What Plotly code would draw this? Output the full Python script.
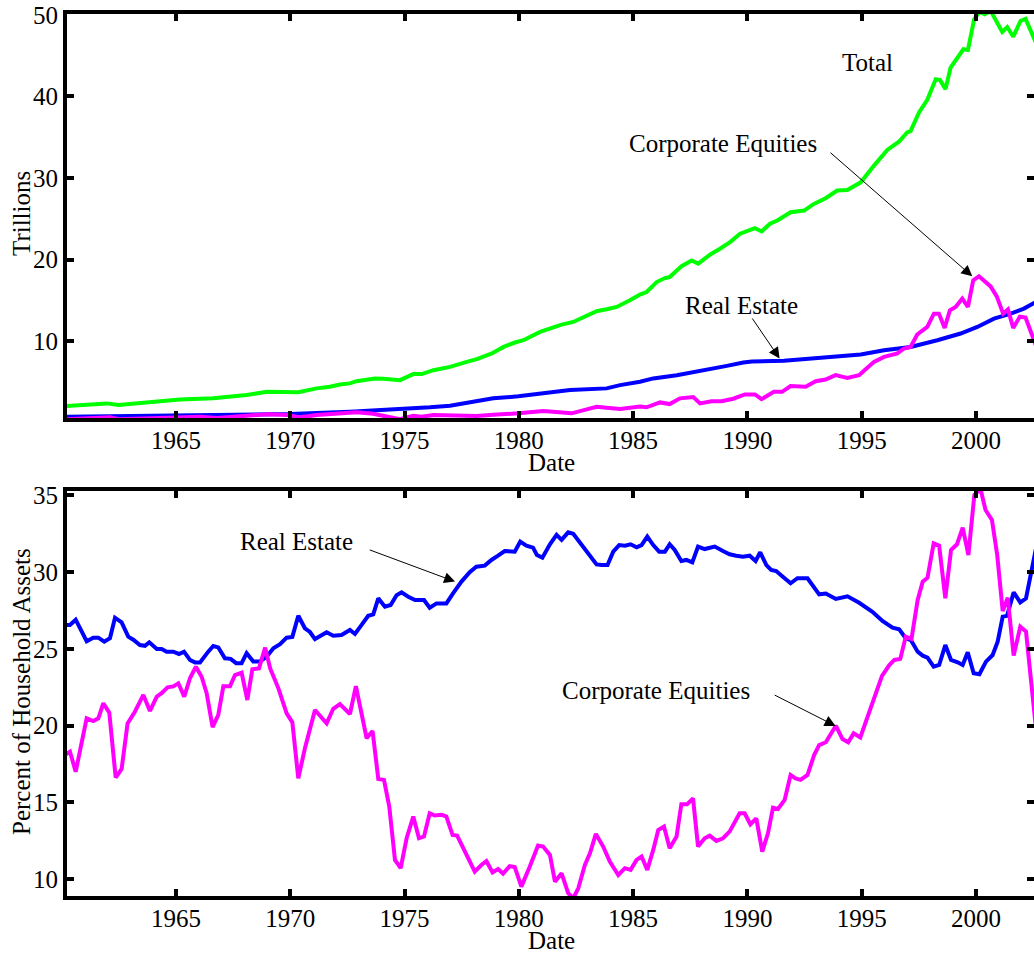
import plotly.graph_objects as go

# ---------------- data ----------------
# Top panel: household assets, trillions of dollars
total_years = [1960.14, 1961.97, 1962.48, 1963.86, 1965.17, 1966.63, 1968.09, 1968.97, 1970.13, 1970.35,
               1971.15, 1971.73, 1972.17, 1972.61, 1972.9, 1973.34, 1973.7, 1974.07, 1974.43, 1974.8,
               1975.38, 1975.75, 1976.26, 1976.99, 1977.72, 1978.16, 1978.82, 1979.33, 1979.83, 1980.2,
               1980.93, 1981.44, 1981.87, 1982.38, 1982.82, 1983.4, 1983.84, 1984.28, 1984.86, 1985.3,
               1985.59, 1986.03, 1986.39, 1986.6, 1987.12, 1987.56, 1987.85, 1988.36, 1988.8, 1989.24,
               1989.68, 1990.04, 1990.33, 1990.62, 1990.99, 1991.31, 1991.89, 1992.48, 1992.91, 1993.42,
               1993.93, 1994.37, 1994.96, 1995.54, 1996.12, 1996.63, 1996.99, 1997.14, 1997.51, 1997.87,
               1998.24, 1998.43, 1998.67, 1998.89, 1999.15, 1999.45, 1999.65, 1999.92, 2000.15, 2000.39,
               2000.65, 2000.91, 2001.15, 2001.37, 2001.63, 2001.95, 2002.17, 2002.62]
total_vals = [2.05, 2.38, 2.18, 2.58, 2.87, 3.0, 3.4, 3.8, 3.8, 3.75,
              4.22, 4.42, 4.7, 4.83, 5.1, 5.23, 5.44, 5.4, 5.37, 5.23,
              5.97, 5.97, 6.45, 6.86, 7.47, 7.8, 8.5, 9.3, 9.84, 10.12,
              11.14, 11.63, 12.04, 12.36, 12.97, 13.67, 13.91, 14.2, 15.01, 15.71,
              16.03, 17.25, 17.74, 17.86, 19.2, 19.9, 19.5, 20.6, 21.33, 22.14,
              23.17, 23.57, 23.85, 23.45, 24.39, 24.79, 25.81, 26.01, 26.83, 27.52,
              28.46, 28.54, 29.47, 31.52, 33.44, 34.45, 35.59, 35.75, 38.03, 39.58,
              42.11, 42.0, 40.89, 43.53, 44.56, 45.78, 45.7, 49.45, 50.34, 50.06,
              50.47, 49.24, 47.9, 48.5, 47.32, 49.24, 49.5, 46.6]

re_years = [1960.14, 1964.6, 1969.99, 1972.61, 1974.8, 1976.11, 1976.99, 1978.0, 1978.88, 1979.98,
            1981.07, 1981.66, 1982.24, 1983.84, 1984.43, 1985.3, 1985.88, 1986.91, 1987.93, 1989.1,
            1989.82, 1990.2, 1991.6, 1992.91, 1994.96, 1995.98, 1997.14, 1998.31, 1999.33, 2000.06,
            2000.79, 2001.52, 2002.1, 2002.62]
re_vals = [0.75, 0.95, 1.08, 1.36, 1.65, 1.9, 2.1, 2.58, 3.0, 3.25,
           3.6, 3.89, 4.01, 4.22, 4.62, 5.03, 5.44, 5.84, 6.33, 6.98,
           7.39, 7.5, 7.6, 7.88, 8.37, 8.9, 9.3, 10.12, 10.94, 11.75,
           12.77, 13.38, 14.0, 14.8]

ce_years = [1960.14, 1962.11, 1962.5, 1966.05, 1966.8, 1968.97, 1969.9, 1970.43, 1971.15, 1972.76,
            1972.9, 1973.63, 1974.36, 1974.8, 1975.38, 1975.75, 1976.26, 1976.99, 1978.16, 1978.88,
            1979.99, 1981.07, 1981.59, 1982.31, 1982.97, 1983.4, 1983.84, 1984.43, 1985.3, 1985.59,
            1986.18, 1986.6, 1987.05, 1987.63, 1987.93, 1988.43, 1988.87, 1989.38, 1989.89, 1990.33,
            1990.62, 1990.99, 1991.16, 1991.52, 1991.89, 1992.55, 1992.99, 1993.42, 1993.86, 1994.37,
            1994.89, 1995.1, 1995.54, 1995.98, 1996.56, 1996.85, 1997.14, 1997.43, 1997.87, 1998.16,
            1998.38, 1998.63, 1998.86, 1999.11, 1999.4, 1999.65, 1999.88, 2000.13, 2000.39, 2000.64,
            2000.91, 2001.19, 2001.4, 2001.63, 2001.92, 2002.17, 2002.62]
ce_vals = [0.43, 0.67, 0.43, 0.75, 0.6, 1.04, 0.95, 0.67, 0.95, 1.16,
           1.3, 1.1, 0.75, 0.43, 0.85, 0.75, 0.95, 0.95, 0.85, 1.0,
           1.16, 1.44, 1.36, 1.16, 1.65, 1.97, 1.85, 1.7, 2.0, 1.9,
           2.5, 2.3, 3.0, 3.15, 2.38, 2.65, 2.65, 2.95, 3.48, 3.48,
           2.9, 3.48, 3.8, 3.8, 4.5, 4.42, 5.1, 5.3, 5.84, 5.5,
           5.84, 6.37, 7.47, 8.08, 8.5, 9.11, 9.3, 10.82, 11.75, 13.38,
           13.38, 11.63, 13.79, 14.2, 15.22, 14.2, 17.46, 17.95, 17.3, 16.72,
           15.5, 13.38, 13.9, 11.63, 13.0, 12.9, 9.5]

# Bottom panel: percent of household assets
re_pct_years = [1960.14, 1960.36, 1960.61, 1961.09, 1961.38, 1961.6, 1961.86, 1962.11, 1962.33, 1962.62,
                1962.91, 1963.13, 1963.42, 1963.64, 1963.83, 1964.16, 1964.37, 1964.59, 1964.88, 1965.13,
                1965.35, 1965.61, 1965.83, 1966.05, 1966.41, 1966.63, 1966.85, 1967.14, 1967.39, 1967.63,
                1967.87, 1968.09, 1968.38, 1968.68, 1968.97, 1969.26, 1969.55, 1969.84, 1970.09, 1970.35,
                1970.64, 1970.86, 1971.08, 1971.59, 1971.88, 1972.24, 1972.61, 1972.83, 1973.12, 1973.41,
                1973.63, 1973.85, 1974.14, 1974.39, 1974.65, 1974.87, 1975.16, 1975.46, 1975.85, 1976.1,
                1976.4, 1976.83, 1977.12, 1977.49, 1977.85, 1978.14, 1978.51, 1978.8, 1979.09, 1979.38,
                1979.82, 1980.06, 1980.33, 1980.62, 1980.79, 1981.03, 1981.36, 1981.65, 1981.87, 1982.16,
                1982.38, 1982.82, 1983.11, 1983.4, 1983.62, 1983.88, 1984.13, 1984.39, 1984.64, 1984.89,
                1985.15, 1985.37, 1985.62, 1985.88, 1986.14, 1986.39, 1986.6, 1986.82, 1987.11, 1987.33,
                1987.59, 1987.84, 1988.13, 1988.57, 1988.93, 1989.22, 1989.51, 1989.8, 1990.1, 1990.36,
                1990.56, 1990.83, 1991.04, 1991.26, 1991.55, 1991.89, 1992.19, 1992.63, 1993.14, 1993.43,
                1993.87, 1994.38, 1994.89, 1995.47, 1995.91, 1996.35, 1996.64, 1996.93, 1997.15, 1997.45,
                1997.67, 1997.88, 1998.15, 1998.39, 1998.66, 1998.91, 1999.2, 1999.42, 1999.64, 1999.9,
                2000.15, 2000.44, 2000.73, 2000.95, 2001.17, 2001.36, 2001.65, 2001.94, 2002.19, 2002.62]
re_pct_vals = [26.56, 26.56, 26.9, 25.5, 25.73, 25.73, 25.47, 25.7, 27.03, 26.73,
               25.8, 25.6, 25.25, 25.2, 25.43, 25.0, 25.0, 24.82, 24.82, 24.67,
               24.82, 24.28, 24.12, 24.12, 24.82, 25.19, 25.1, 24.39, 24.35, 24.07,
               24.07, 24.72, 24.18, 24.18, 24.5, 25.04, 25.3, 25.73, 25.78, 27.16,
               26.34, 26.1, 25.64, 26.08, 25.86, 25.9, 26.23, 25.97, 26.56, 27.16,
               27.25, 28.29, 27.75, 27.86, 28.5, 28.68, 28.4, 28.18, 28.18, 27.68,
               27.96, 27.96, 28.62, 29.38, 29.99, 30.35, 30.42, 30.79, 31.07, 31.37,
               31.33, 31.98, 31.72, 31.59, 31.11, 30.94, 31.81, 32.42, 32.1, 32.59,
               32.5, 31.59, 31.07, 30.5, 30.46, 30.46, 31.33, 31.76, 31.72, 31.81,
               31.61, 31.76, 32.31, 31.76, 31.33, 31.33, 31.81, 31.44, 30.72, 30.79,
               30.63, 31.66, 31.5, 31.66, 31.37, 31.16, 31.07, 31.0, 31.07, 30.72,
               31.29, 30.46, 30.14, 30.07, 29.7, 29.27, 29.6, 29.6, 28.55, 28.6,
               28.25, 28.42, 28.0, 27.42, 26.82, 26.38, 26.28, 25.69, 25.58, 24.82,
               24.56, 24.43, 23.84, 23.95, 25.25, 24.28, 24.13, 23.95, 24.78, 23.41,
               23.35, 24.17, 24.6, 25.47, 27.1, 27.15, 28.68, 28.03, 28.29, 31.5]

ce_pct_years = [1960.14, 1960.36, 1960.61, 1961.09, 1961.38, 1961.6, 1961.82, 1962.08, 1962.36, 1962.62,
                1962.88, 1963.2, 1963.57, 1963.86, 1964.16, 1964.37, 1964.63, 1964.88, 1965.1, 1965.36,
                1965.61, 1965.87, 1966.12, 1966.34, 1966.6, 1966.85, 1967.07, 1967.36, 1967.58, 1967.87,
                1968.12, 1968.34, 1968.63, 1968.9, 1969.12, 1969.48, 1969.84, 1970.09, 1970.35, 1970.64,
                1971.08, 1971.59, 1971.88, 1972.17, 1972.61, 1972.87, 1973.34, 1973.6, 1973.85, 1974.1,
                1974.33, 1974.58, 1974.83, 1975.09, 1975.38, 1975.63, 1975.85, 1976.1, 1976.32, 1976.62,
                1976.83, 1977.1, 1977.3, 1977.56, 1977.78, 1978.07, 1978.36, 1978.58, 1978.85, 1979.09,
                1979.31, 1979.6, 1979.82, 1980.11, 1980.47, 1980.84, 1981.06, 1981.36, 1981.58, 1981.87,
                1982.16, 1982.38, 1982.6, 1982.89, 1983.11, 1983.37, 1983.69, 1983.98, 1984.35, 1984.64,
                1984.89, 1985.15, 1985.37, 1985.62, 1985.88, 1986.1, 1986.35, 1986.6, 1986.9, 1987.11,
                1987.36, 1987.62, 1987.84, 1988.13, 1988.35, 1988.64, 1988.93, 1989.22, 1989.66, 1989.88,
                1990.13, 1990.39, 1990.65, 1990.9, 1991.12, 1991.34, 1991.63, 1991.89, 1992.11, 1992.33,
                1992.63, 1992.92, 1993.14, 1993.43, 1993.87, 1994.16, 1994.41, 1994.65, 1994.94, 1995.26,
                1995.58, 1995.89, 1996.21, 1996.43, 1996.69, 1996.93, 1997.18, 1997.45, 1997.67, 1997.88,
                1998.15, 1998.39, 1998.66, 1998.91, 1999.17, 1999.42, 1999.67, 1999.93, 2000.2, 2000.42,
                2000.7, 2000.93, 2001.17, 2001.39, 2001.65, 2001.94, 2002.19, 2002.62]
ce_pct_vals = [18.09, 18.31, 17.0, 20.48, 20.3, 20.48, 21.46, 20.85, 16.62, 17.18,
               20.15, 20.91, 22.0, 20.96, 21.89, 22.12, 22.5, 22.56, 22.76, 21.89,
               23.09, 23.84, 23.19, 22.12, 19.9, 20.7, 22.56, 22.56, 23.3, 23.45,
               21.67, 23.67, 23.73, 25.08, 23.73, 22.43, 20.8, 20.22, 16.57, 18.53,
               21.02, 20.15, 21.1, 21.41, 20.76, 22.58, 19.18, 19.66, 16.53, 16.47,
               14.73, 11.26, 10.72, 12.67, 14.08, 12.67, 12.78, 14.3, 14.15, 14.2,
               14.08, 12.88, 12.84, 12.02, 11.37, 10.5, 10.93, 11.19, 10.45, 10.67,
               10.37, 10.85, 10.8, 9.52, 10.8, 12.19, 12.13, 11.58, 9.84, 10.39,
               9.09, 8.76, 9.41, 10.93, 11.69, 12.95, 12.13, 11.15, 10.28, 10.72,
               10.61, 11.26, 11.48, 10.61, 11.91, 13.21, 13.43, 12.02, 12.78, 14.88,
               14.88, 15.27, 12.13, 12.67, 12.84, 12.5, 12.67, 13.1, 14.3, 14.3,
               13.58, 13.97, 11.8, 12.99, 14.66, 14.58, 15.16, 16.79, 16.57, 16.47,
               16.79, 18.09, 18.74, 18.92, 20.0, 19.13, 18.92, 19.5, 19.23, 20.59,
               22.0, 23.24, 23.95, 24.28, 24.35, 25.8, 25.65, 28.18, 29.38, 29.63,
               31.87, 31.72, 28.29, 31.44, 31.81, 32.89, 31.11, 35.02, 35.41, 34.04,
               33.39, 31.11, 27.47, 28.34, 24.56, 26.45, 26.13, 19.9]

x_ticks = [1965, 1970, 1975, 1980, 1985, 1990, 1995, 2000]
top_y_ticks = [10, 20, 30, 40, 50]
bottom_y_ticks = [10, 15, 20, 25, 30, 35]

# ---------------- styling ----------------
FONT = "Liberation Serif, Times New Roman, serif"
GREEN, BLUE, MAGENTA = "#00ff00", "#0000ff", "#ff00ff"
LW = 4
W, H = 1034, 955
ML = 67                      # left margin (plot area starts here)
PW = W - ML                  # plot area width

def px_x(px):
    return (px - ML) / PW

def px_y(py):
    return 1 - py / H

fig = go.Figure()
fig.add_trace(go.Scatter(x=total_years, y=total_vals, mode="lines", line=dict(color=GREEN, width=LW),
                         xaxis="x", yaxis="y", name="Total"))
fig.add_trace(go.Scatter(x=re_years, y=re_vals, mode="lines", line=dict(color=BLUE, width=LW),
                         xaxis="x", yaxis="y", name="Real Estate"))
fig.add_trace(go.Scatter(x=ce_years, y=ce_vals, mode="lines", line=dict(color=MAGENTA, width=LW),
                         xaxis="x", yaxis="y", name="Corporate Equities"))
fig.add_trace(go.Scatter(x=re_pct_years, y=re_pct_vals, mode="lines", line=dict(color=BLUE, width=LW),
                         xaxis="x2", yaxis="y2", name="Real Estate %"))
fig.add_trace(go.Scatter(x=ce_pct_years, y=ce_pct_vals, mode="lines", line=dict(color=MAGENTA, width=LW),
                         xaxis="x2", yaxis="y2", name="Corporate Equities %"))

tickfont = dict(family=FONT, size=25, color="black")
common = dict(showline=True, linewidth=4, linecolor="black", mirror="ticks", ticks="inside",
              ticklen=7, tickwidth=4, tickcolor="black", showgrid=False, zeroline=False,
              tickfont=tickfont, automargin=False)

x_range = [1960.23, 2002.54]

fig.update_layout(
    template="none",
    width=W, height=H,
    margin=dict(l=ML, r=0, t=0, b=0, pad=0),
    paper_bgcolor="white", plot_bgcolor="white",
    showlegend=False,
    xaxis=dict(range=x_range, tickvals=x_ticks, domain=[0, 1], anchor="y", ticklabelstandoff=-3, **common),
    yaxis=dict(range=[0.59, 50.1], tickvals=top_y_ticks, domain=[px_y(418), px_y(14)], anchor="x", **common),
    xaxis2=dict(range=x_range, tickvals=x_ticks, domain=[0, 1], anchor="y2", ticklabelstandoff=-3, **common),
    yaxis2=dict(range=[8.91, 35.28], tickvals=bottom_y_ticks, domain=[px_y(896), px_y(491)], anchor="x2", **common),
)

tfont = dict(family=FONT, size=25, color="black")
ann = []
# axis titles
ann.append(dict(text="Date", xref="paper", yref="paper", x=px_x(551), y=px_y(462),
                xanchor="center", yanchor="middle", showarrow=False, font=tfont))
ann.append(dict(text="Date", xref="paper", yref="paper", x=px_x(551), y=px_y(940),
                xanchor="center", yanchor="middle", showarrow=False, font=tfont))
ann.append(dict(text="Trillions", xref="paper", yref="paper", x=px_x(21), y=px_y(214), textangle=-90,
                xanchor="center", yanchor="middle", showarrow=False, font=tfont))
ann.append(dict(text="Percent of Household Assets", xref="paper", yref="paper", x=px_x(21), y=px_y(692),
                textangle=-90, xanchor="center", yanchor="middle", showarrow=False, font=tfont))
# top labels
ann.append(dict(text="Total", xref="x", yref="y", x=1995.27, y=44.1, showarrow=False, font=tfont))
ann.append(dict(text="Corporate Equities", xref="x", yref="y", x=1988.95, y=34.2, showarrow=False, font=tfont))
ann.append(dict(text="Real Estate", xref="x", yref="y", x=1989.72, y=14.4, showarrow=False, font=tfont))
# bottom labels
ann.append(dict(text="Real Estate", xref="x2", yref="y2", x=1970.25, y=32.02, showarrow=False, font=tfont))
ann.append(dict(text="Corporate Equities", xref="x2", yref="y2", x=1986.02, y=22.32, showarrow=False, font=tfont))

arrow = dict(text="", showarrow=True, arrowhead=2, arrowsize=2.2, arrowwidth=1, arrowcolor="black",
             standoff=0, startstandoff=0)
ann.append(dict(xref="x", yref="y", axref="x", ayref="y", x=1999.84, y=17.95, ax=1993.57, ay=33.26, **arrow))
ann.append(dict(xref="x", yref="y", axref="x", ayref="y", x=1991.41, y=7.88, ax=1990.17, ay=12.97, **arrow))
ann.append(dict(xref="x2", yref="y2", axref="x2", ayref="y2", x=1977.21, y=29.38, ax=1973.41, ay=31.48, **arrow))
ann.append(dict(xref="x2", yref="y2", axref="x2", ayref="y2", x=1993.86, y=19.98, ax=1991.13, ay=22.04, **arrow))

fig.update_layout(annotations=ann)

fig.write_html("out.html", config={"displayModeBar": False},
               post_script="document.body.style.margin='0';document.body.style.overflow='hidden';")
